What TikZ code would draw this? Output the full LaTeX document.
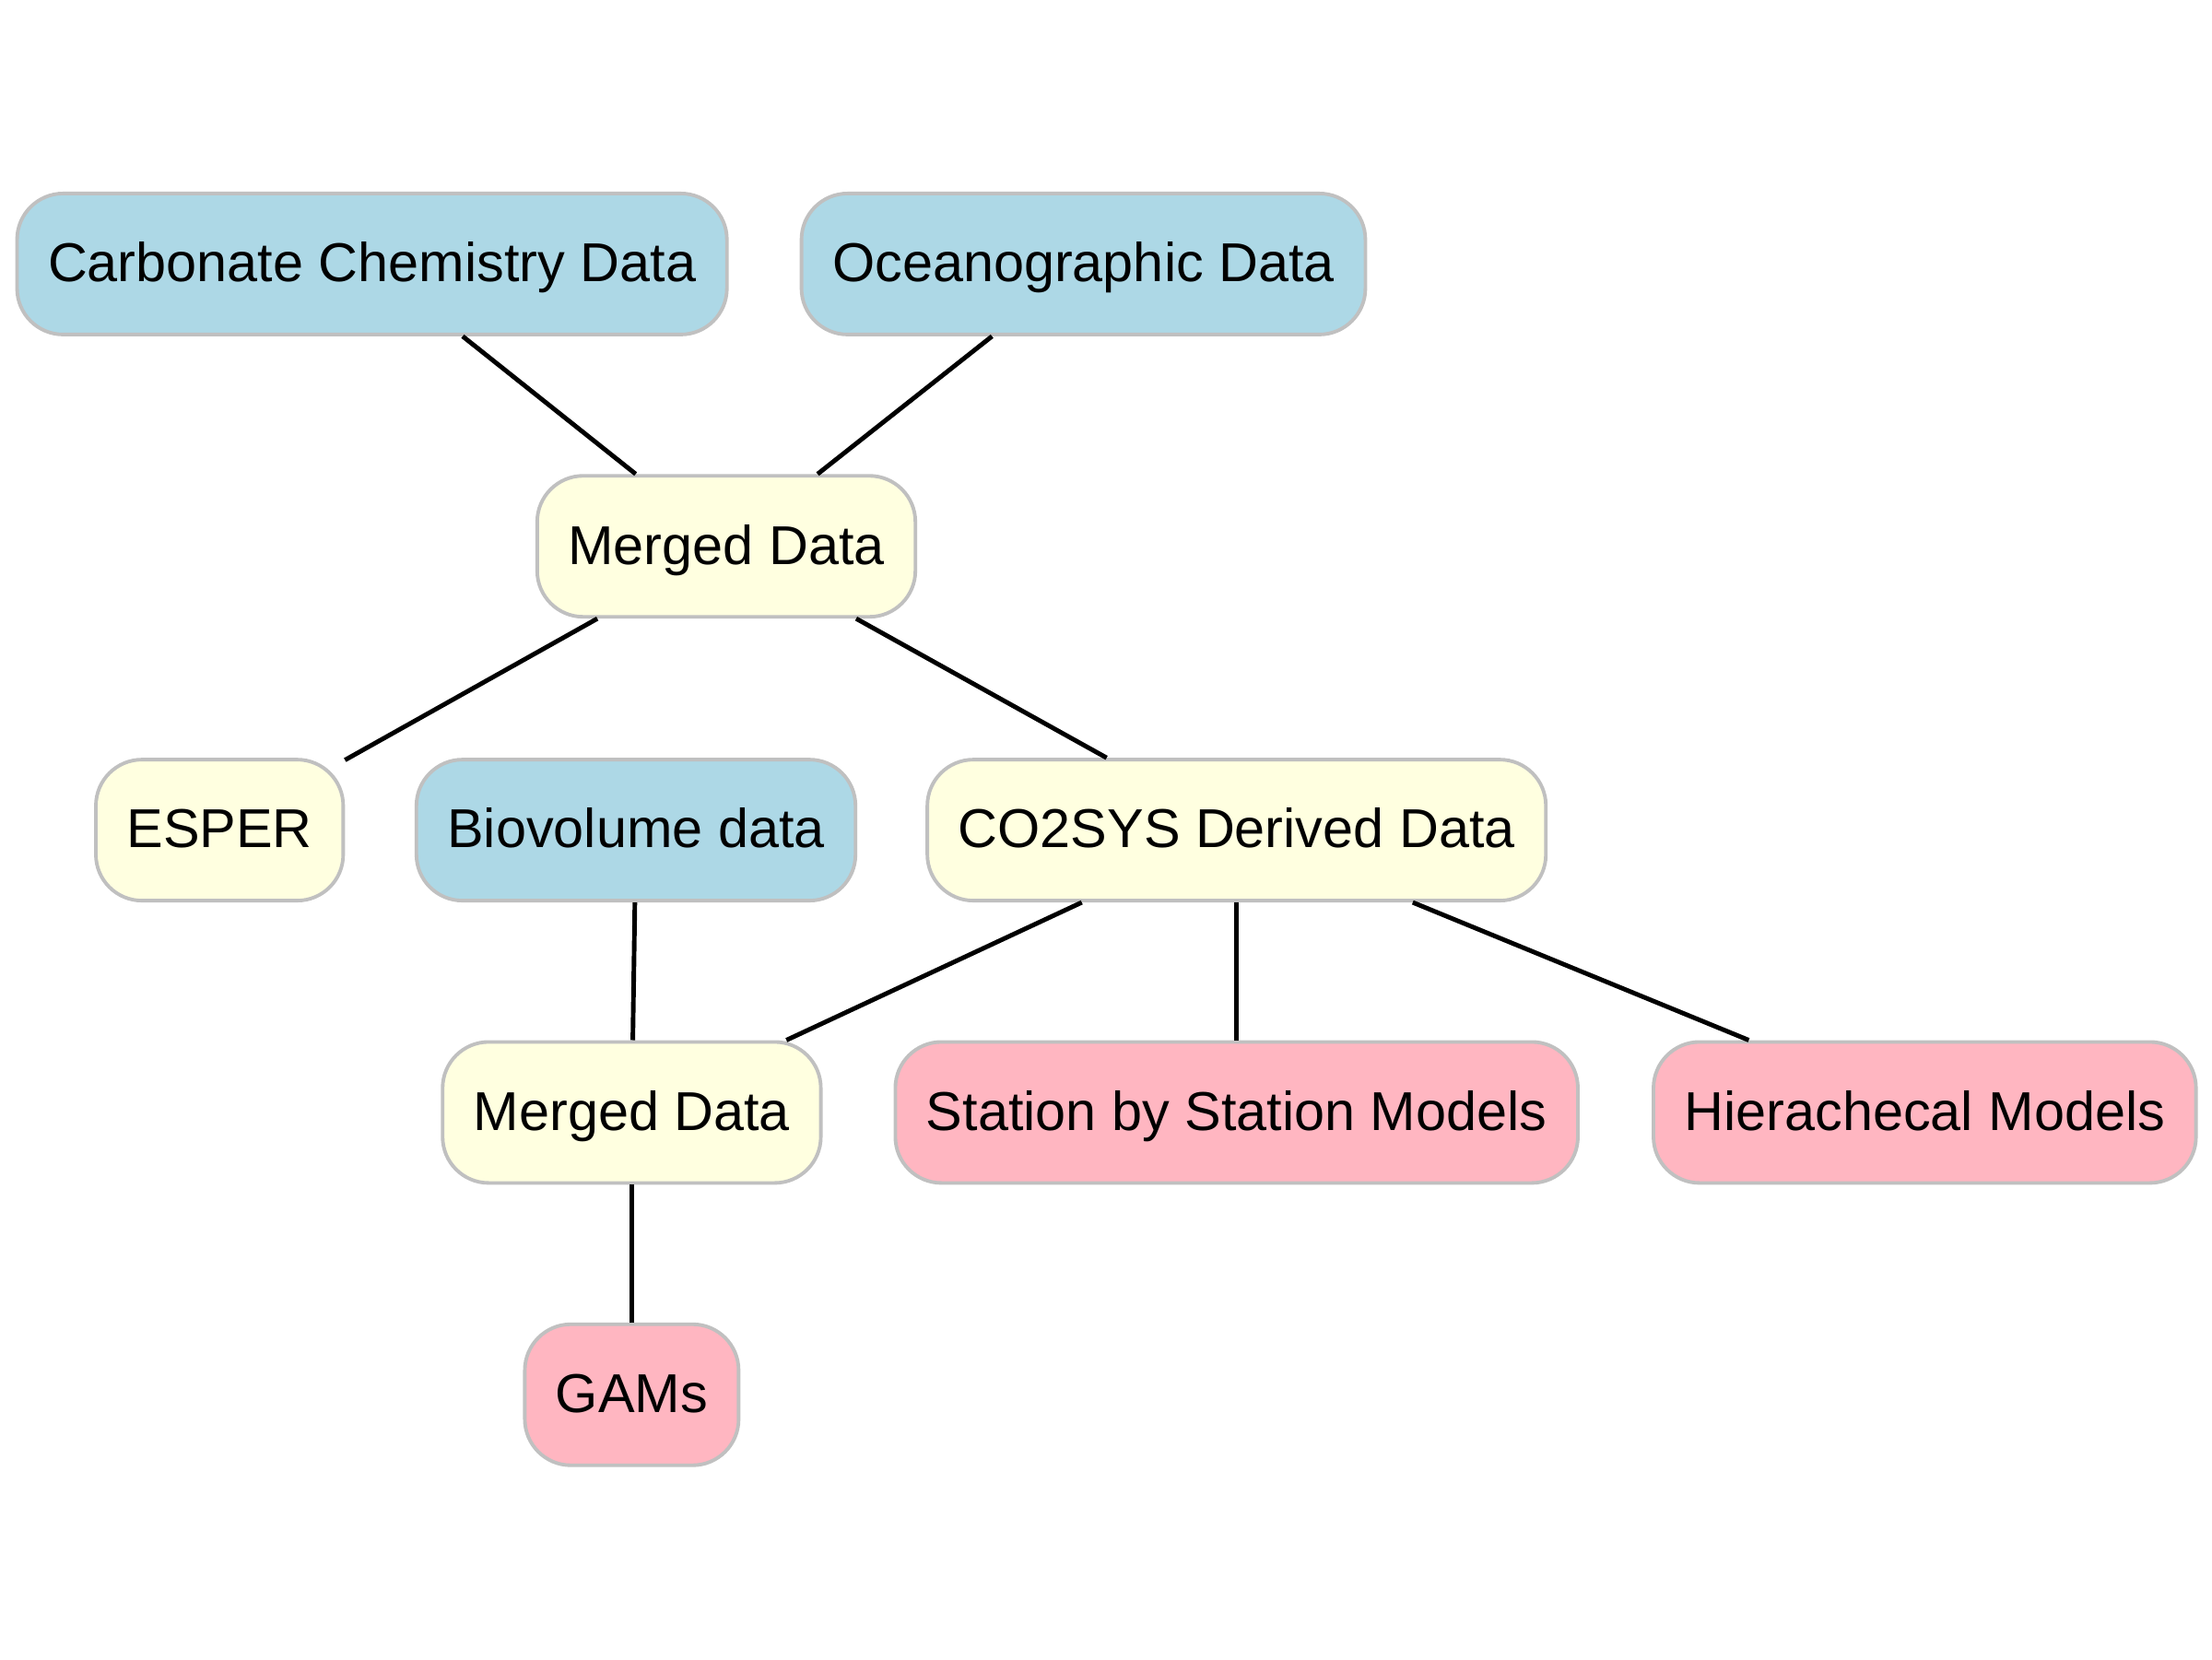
\documentclass[tikz,border=0pt]{standalone}
\usepackage{fontspec}
\setmainfont{Liberation Sans}
\usetikzlibrary{positioning}
\definecolor{inbox}{HTML}{ADD8E6}
\definecolor{midbox}{HTML}{FFFFE0}
\definecolor{outbox}{HTML}{FFB6C1}
\definecolor{rim}{HTML}{C0C0C0}

\begin{document}
\begin{tikzpicture}[every node/.style={draw=rim,line width=1.1pt,rounded corners=0.5cm,minimum height=1.53cm,inner xsep=0.335cm,text height=14pt,text depth=3pt,font=\fontsize{16.9}{20}\selectfont},
  source/.style={fill=inbox}, derived/.style={fill=midbox}, model/.style={fill=outbox}]
  \useasboundingbox (0,0) rectangle (24,-18);
  \node[source] (carb) at (4.036,-2.864) {Carbonate Chemistry Data};
  \node[source] (ocean) at (11.755,-2.864) {Oceanographic Data};
  \node[derived] (mergeA) at (7.880,-5.927) {Merged Data};
  \node[derived] (esper) at (2.382,-9.006) {ESPER};
  \node[source] (biovol) at (6.900,-9.006) {Biovolume data};
  \node[derived] (co2sys) at (13.417,-9.006) {CO2SYS Derived Data};
  \node[derived] (mergeB) at (6.854,-12.069) {Merged Data};
  \node[model] (station) at (13.417,-12.069) {Station by Station Models};
  \node[model] (hier) at (20.883,-12.069) {Hierachecal Models};
  \node[model] (gams) at (6.854,-15.132) {GAMs};

  \foreach \a/\b in {carb/mergeA,ocean/mergeA,mergeA/esper,mergeA/co2sys,biovol/mergeB,co2sys/mergeB,co2sys/station,co2sys/hier,mergeB/gams}{\draw[line width=1.4pt] (\a) -- (\b);}
\end{tikzpicture}
\end{document}
